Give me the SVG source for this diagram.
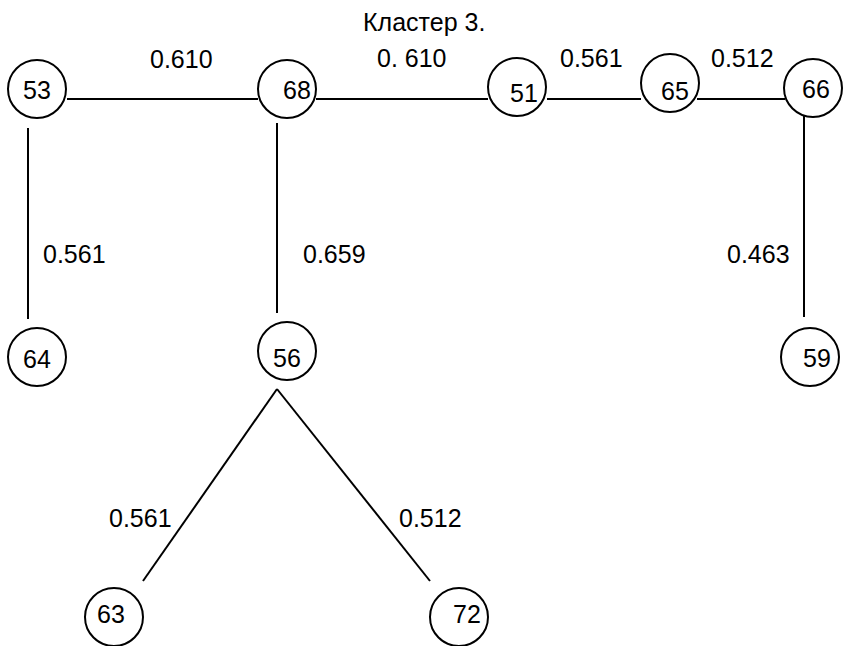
<svg xmlns="http://www.w3.org/2000/svg" width="843" height="646" viewBox="0 0 843 646">
  <style>
    .node circle { fill: #ffffff; stroke: #000000; stroke-width: 2; }
    .node text, .lbl, .title { font-family: "Liberation Sans", Arial, sans-serif; font-size: 25px; fill: #000000; }
    #edges line { stroke: #000000; stroke-width: 2; }
  </style>
  <rect width="843" height="646" fill="#ffffff"/>

  <text class="title" x="363" y="31">Кластер 3.</text>

  <!-- connectors -->
  <g id="edges">
    <line x1="67" y1="99" x2="258" y2="99"/>
    <line x1="316" y1="99" x2="488" y2="99"/>
    <line x1="547" y1="99" x2="641" y2="99"/>
    <line x1="697" y1="99" x2="785" y2="99"/>
    <line x1="28" y1="128" x2="28" y2="319"/>
    <line x1="277" y1="123" x2="277" y2="313"/>
    <line x1="804" y1="106" x2="804" y2="317"/>
    <line x1="277" y1="389" x2="143" y2="581"/>
    <line x1="277" y1="389" x2="430" y2="581"/>
  </g>

  <!-- edge weights -->
  <g id="weights">
    <text class="lbl" x="150" y="68">0.610</text>
    <text class="lbl" x="377" y="67">0. 610</text>
    <text class="lbl" x="560" y="67">0.561</text>
    <text class="lbl" x="711" y="67">0.512</text>
    <text class="lbl" x="43" y="263">0.561</text>
    <text class="lbl" x="303" y="263">0.659</text>
    <text class="lbl" x="727" y="263">0.463</text>
    <text class="lbl" x="109" y="527">0.561</text>
    <text class="lbl" x="399" y="527">0.512</text>
  </g>

  <!-- nodes -->
  <g id="n53" class="node"><circle cx="37" cy="89" r="29"/><text x="23" y="99">53</text></g>
  <g id="n68" class="node"><circle cx="287" cy="89" r="29"/><text x="283" y="99">68</text></g>
  <g id="n51" class="node"><circle cx="517" cy="87" r="29"/><text x="510" y="102">51</text></g>
  <g id="n65" class="node"><circle cx="670" cy="83" r="29"/><text x="661" y="100">65</text></g>
  <g id="n66" class="node"><circle cx="813" cy="88" r="29"/><text x="802" y="98">66</text></g>
  <g id="n64" class="node"><circle cx="37" cy="357" r="29"/><text x="23" y="368">64</text></g>
  <g id="n56" class="node"><circle cx="287" cy="351" r="29"/><text x="273" y="367">56</text></g>
  <g id="n59" class="node"><circle cx="810" cy="357" r="29"/><text x="803" y="367">59</text></g>
  <g id="n63" class="node"><circle cx="114" cy="617" r="29"/><text x="97" y="623">63</text></g>
  <g id="n72" class="node"><circle cx="459" cy="617" r="29"/><text x="453" y="623">72</text></g>
</svg>
